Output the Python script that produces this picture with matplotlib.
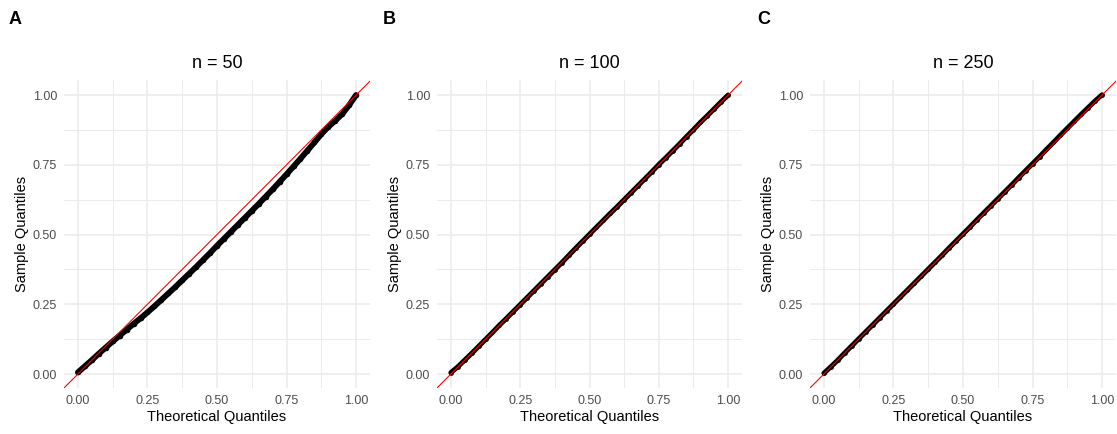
import matplotlib
matplotlib.use("Agg")
from matplotlib import pyplot as plt
from matplotlib.ticker import MultipleLocator

plt.rcParams['font.family'] = ['Liberation Sans', 'DejaVu Sans']

# theoretical quantiles
theo = [0.0, 0.025, 0.05, 0.075, 0.1, 0.125, 0.15, 0.175, 0.2, 0.225,
        0.25, 0.275, 0.3, 0.325, 0.35, 0.375, 0.4, 0.425, 0.45, 0.475,
        0.5, 0.525, 0.55, 0.575, 0.6, 0.625, 0.65, 0.675, 0.7, 0.725,
        0.75, 0.775, 0.8, 0.825, 0.85, 0.875, 0.9, 0.925, 0.95, 0.975, 1.0]

# sample quantiles per panel
sampleA = [0.006, 0.028, 0.050, 0.073, 0.095, 0.117, 0.138, 0.159, 0.180, 0.200,
           0.221, 0.243, 0.266, 0.289, 0.312, 0.336, 0.360, 0.384, 0.409, 0.434,
           0.460, 0.485, 0.510, 0.535, 0.560, 0.585, 0.610, 0.636, 0.662, 0.689,
           0.716, 0.744, 0.772, 0.801, 0.830, 0.860, 0.886, 0.908, 0.932, 0.964, 1.000]
sampleB = [0.005, 0.026, 0.050, 0.074, 0.099, 0.124, 0.149, 0.175, 0.199, 0.224,
           0.249, 0.274, 0.299, 0.324, 0.349, 0.374, 0.399, 0.425, 0.451, 0.476,
           0.501, 0.526, 0.551, 0.576, 0.600, 0.625, 0.650, 0.675, 0.700, 0.725,
           0.751, 0.775, 0.800, 0.825, 0.851, 0.876, 0.902, 0.926, 0.951, 0.976, 1.000]
sampleC = [0.003, 0.026, 0.050, 0.076, 0.101, 0.126, 0.151, 0.176, 0.201, 0.226,
           0.251, 0.276, 0.301, 0.326, 0.351, 0.376, 0.401, 0.426, 0.452, 0.477,
           0.502, 0.527, 0.553, 0.578, 0.603, 0.628, 0.653, 0.678, 0.704, 0.729,
           0.754, 0.779, 0.805, 0.830, 0.856, 0.881, 0.906, 0.931, 0.955, 0.979, 1.001]

titles = ["n = 50", "n = 100", "n = 250"]
letters = ["A", "B", "C"]
samples = [sampleA, sampleB, sampleC]

W, H = 1117, 434
fig = plt.figure(figsize=(W/100, H/100), dpi=100)

# panel boxes in pixels (left, right, top, bottom)
boxes = [(64, 370, 80, 388), (437, 742, 80, 388), (810, 1116, 80, 388)]
letter_x = [9, 383, 757]
widths = [4.2, 3.6, 3.6]

for i in range(3):
  l, r, t, b = boxes[i]
  ax = fig.add_axes([l/W, 1-b/H, (r-l)/W, (b-t)/H])
  ax.set_xlim(-0.05, 1.05)
  ax.set_ylim(-0.05, 1.054)
  ax.xaxis.set_major_locator(MultipleLocator(0.25))
  ax.yaxis.set_major_locator(MultipleLocator(0.25))
  ax.xaxis.set_minor_locator(MultipleLocator(0.125))
  ax.yaxis.set_minor_locator(MultipleLocator(0.125))
  ax.grid(which='major', color='#ebebeb', lw=1.1)
  ax.grid(which='minor', color='#ebebeb', lw=0.7)
  ax.set_axisbelow(True)
  for s in ax.spines.values():
    s.set_visible(False)
  ax.tick_params(which='both', length=0, labelsize=9, labelcolor='#4d4d4d', pad=5)
  ax.xaxis.set_major_formatter(plt.FuncFormatter(lambda v, p: "%.2f" % v))
  ax.yaxis.set_major_formatter(plt.FuncFormatter(lambda v, p: "%.2f" % v))

  ax.plot(theo, samples[i], '-o', color='black', lw=widths[i], ms=widths[i]*0.95,
          mew=0, solid_capstyle='round', solid_joinstyle='round', zorder=3)
  ax.axline((0, 0), slope=1, color='red', lw=0.8, zorder=4)

  ax.set_xlabel("Theoretical Quantiles", fontsize=10.5, color='black', labelpad=2)
  ax.set_ylabel("Sample Quantiles", fontsize=10.5, color='black', labelpad=3)
  ax.set_title(titles[i], fontsize=13, color='black', pad=9)
  fig.text(letter_x[i]/W, 1-24/H, letters[i], fontsize=13, fontweight='bold', ha='left', va='baseline')

fig.savefig("out.png", dpi=100)
